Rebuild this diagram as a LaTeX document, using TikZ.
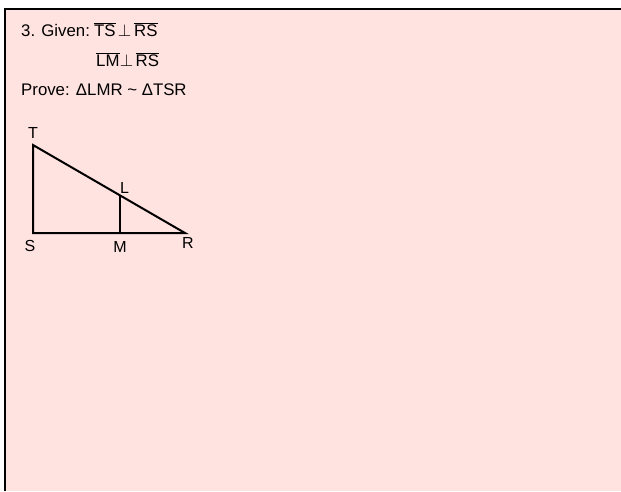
\documentclass[tikz,border=0pt]{standalone}
\usepackage{fontspec}
\setmainfont{Liberation Sans}
\usepackage{tikz}
\usetikzlibrary{positioning}
\definecolor{paper}{HTML}{FFE3E0}
\def\seg#1{$\overline{\mbox{#1}}$}

\begin{document}
\begin{tikzpicture}[x=1pt,y=-1pt,font=\fontsize{16.8}{19}\selectfont,
    txt/.style={anchor=base west,inner sep=0pt},
    sym/.style={anchor=base,inner sep=0pt},
    lbl/.style={inner sep=0pt,font=\fontsize{16}{18}\selectfont}]
  \useasboundingbox (0,0) rectangle (621,491);
  \fill[paper] (5,9) rectangle (621,491);
  \draw[line width=2pt] (5,491) -- (5,9) -- (621,9);
  % given and prove
  \node[txt] (given) at (21,36) {3. Given:};
  \node[txt] (ts) at (94,36) {\seg{TS}};
  \node[sym] (perpA) at (124.5,36) {$\perp$};
  \node[txt] (rsA) at (134,36) {\seg{RS}};
  \node[txt] (lm) at (96,66.5) {\seg{LM}};
  \node[sym] (perpB) at (126.5,66.5) {$\perp$};
  \node[txt] (rsB) at (135.5,66.5) {\seg{RS}};
  \node[txt] (prove) at (21,95) {Prove: ΔLMR \char`\~\ ΔTSR};
  % triangle
  \coordinate (T) at (33,145);
  \coordinate (S) at (33,233);
  \coordinate (R) at (185,233);
  \coordinate (L) at (120,195.5);
  \coordinate (M) at (120,233);
  \draw[line width=2pt,line join=miter] (T) -- (S) -- (R) -- cycle;
  \draw[line width=1.2pt] (L) -- (M);
  \node[lbl] (tT) at (33,133) {T};
  \node[lbl] (tL) at (124.5,188) {L};
  \node[lbl] (tS) at (30,245.5) {S};
  \node[lbl] (tM) at (120,246.5) {M};
  \node[lbl] (tR) at (188,242.5) {R};
\end{tikzpicture}
\end{document}
